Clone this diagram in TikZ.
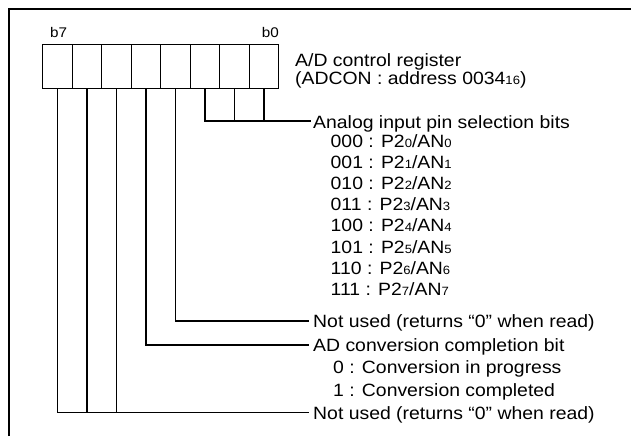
\documentclass[tikz,border=0pt]{standalone}
\usepackage{fontspec}
\setmainfont{Liberation Sans}[FakeStretch=1.09]
\newcommand\smdig[1]{{\fontsize{12}{12}\selectfont #1}}
\begin{document}
\begin{tikzpicture}[x=1pt,y=-1pt,
  cell/.style={draw,line width=0.8pt,minimum width=29.5pt,minimum height=44pt,inner sep=0pt,outer sep=0pt},
  conn/.style={line width=1.5pt},
  lbl/.style={anchor=base west,inner sep=0pt,font=\fontsize{17.8}{21}\selectfont},
  blbl/.style={inner sep=0pt,font=\fontsize{14}{14}\selectfont},
  frameline/.style={line width=2.8pt}]
\useasboundingbox (0,0) rectangle (631,436);
% frame (clipped at right and bottom)
\draw[frameline] (9,436) -- (9,9) -- (631,9);
% register cells
\foreach \i/\n in {0/7,1/6,2/5,3/4,4/3,5/2,6/1,7/0}
  \node[cell] (b\n) at (57.45+29.5*\i,66.3) {};
\node[blbl,anchor=base west] (lb7) at (50,37.3) {b7};
\node[blbl,anchor=base east] (lb0) at (279,37.3) {b0};
% labels
\node[lbl,text depth=0pt] (title) at (295,66.6) {A/D control register};
\node[lbl,text height=12pt] (addr) at (295,84.4) {(ADCON : address 0034\smdig{16})};
\node[lbl] (analog) at (313,128.5) {Analog input pin selection bits};
\foreach \k/\v [count=\j from 0] in {000/0,001/1,010/2,011/3,100/4,101/5,110/6,111/7}
  \node[lbl] (sel\v) at (330.5,147.5+21.1*\j) {\k{} : P2\smdig{\v}/AN\smdig{\v}};
\node[lbl] (nu1) at (313,327.3) {Not used (returns “0” when read)};
\node[lbl] (adc) at (313,351) {AD conversion completion bit};
\node[lbl] (adc0) at (333,373.7) {0 : Conversion in progress};
\node[lbl] (adc1) at (333,396.3) {1 : Conversion completed};
\node[lbl] (nu2) at (313,419) {Not used (returns “0” when read)};
% connector end points
\coordinate (ka) at (311,121);
\coordinate (kn1) at (308.5,321);
\coordinate (kad) at (308.5,345);
\coordinate (kn2) at (308.5,412.7);
% connectors
\draw[conn] (b2.south) |- (ka);
\draw[conn] (b1.south) -- (b1.south |- ka);
\draw[conn] (b0.south) -- (b0.south |- ka);
\draw[conn] (b3.south) |- (kn1);
\draw[conn] (b4.south) |- (kad);
\draw[conn] (b7.south) |- (kn2);
\draw[conn] (b6.south) -- (b6.south |- kn2);
\draw[conn] (b5.south) -- (b5.south |- kn2);
\end{tikzpicture}
\end{document}
